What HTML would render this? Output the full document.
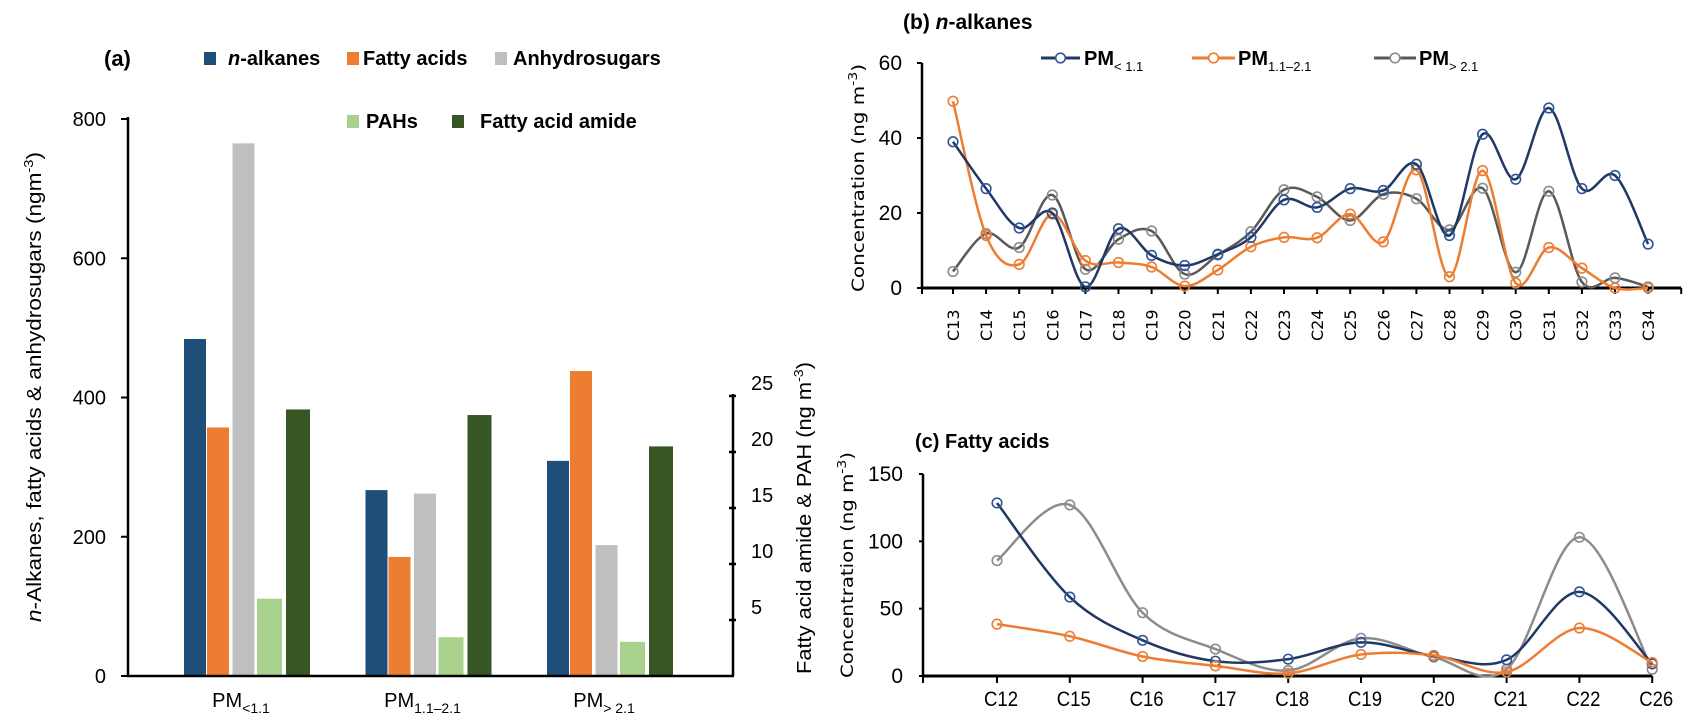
<!DOCTYPE html>
<html><head><meta charset="utf-8"><style>
html,body{margin:0;padding:0;background:#fff;}
svg{display:block;font-family:"Liberation Sans",sans-serif;}
</style></head><body>
<svg id="fig" width="1697" height="725" viewBox="0 0 1697 725" xmlns="http://www.w3.org/2000/svg">
<g id="pa"></g>
<g id="pb"></g>
<g id="pc"></g>
</svg>
<script>
// ---------- Panel (a) data ----------
const groupsA = ["<1.1", "1.1\u20132.1", "> 2.1"];
const alkanesA = [484, 267, 309];
const fattyA = [357, 171, 438];
const anhydroA = [765, 262, 188];
const pahA = [6.9, 3.46, 3.05];
const amideA = [23.8, 23.3, 20.5];
const leftTicksA = [0, 200, 400, 600, 800];
const rightTicksA = [5, 10, 15, 20, 25];

// ---------- Panel (b) data ----------
const catsB = ["C13","C14","C15","C16","C17","C18","C19","C20","C21","C22","C23","C24","C25","C26","C27","C28","C29","C30","C31","C32","C33","C34"];
const b_lt11 = [39, 26.5, 16, 20, 0.3, 15.8, 8.7, 6, 9, 13.5, 23.5, 21.5, 26.5, 26, 33, 14, 41, 29, 48, 26.5, 30, 11.7];
const b_11_21 = [49.8, 14, 6.3, 19.7, 7.3, 6.8, 5.6, 0.5, 4.8, 11, 13.5, 13.4, 19.7, 12.3, 31.5, 3, 31.3, 1.3, 10.8, 5.3, 0, 0];
const b_gt21 = [4.4, 14.5, 10.8, 24.8, 5, 13, 15.2, 3.7, 8.8, 15, 26.2, 24.3, 18, 25, 23.8, 15.5, 26.6, 4.2, 25.8, 1.6, 2.7, 0.3];
const ticksB = [0, 20, 40, 60];

// ---------- Panel (c) data ----------
const catsC = ["C12","C15","C16","C17","C18","C19","C20","C21","C22","C26"];
const c_lt11 = [128.5, 58.6, 26.5, 11, 12.5, 25, 15, 12, 62.5, 9];
const c_11_21 = [38.5, 29.5, 14.5, 7.5, 2, 16, 15.3, 3, 35.6, 10];
const c_gt21 = [85.7, 127, 47, 20, 4, 28, 14, 5, 103, 5];
const ticksC = [0, 50, 100, 150];

const NS = "http://www.w3.org/2000/svg";
function mk(parent, tag, attrs, text) {
  const e = document.createElementNS(NS, tag);
  for (const k in attrs) e.setAttribute(k, attrs[k]);
  if (text !== undefined) e.textContent = text;
  parent.appendChild(e);
  return e;
}
function smoothPath(pts) {
  let d = "M" + pts[0][0] + "," + pts[0][1];
  for (let i = 0; i < pts.length - 1; i++) {
    const p0 = pts[i - 1] || pts[i], p1 = pts[i], p2 = pts[i + 1], p3 = pts[i + 2] || p2;
    const c1x = p1[0] + (p2[0] - p0[0]) / 6, c1y = p1[1] + (p2[1] - p0[1]) / 6;
    const c2x = p2[0] - (p3[0] - p1[0]) / 6, c2y = p2[1] - (p3[1] - p1[1]) / 6;
    d += " C" + c1x + "," + c1y + " " + c2x + "," + c2y + " " + p2[0] + "," + p2[1];
  }
  return d;
}

// ===== Panel A =====
const pa = document.getElementById("pa");
const aX0 = 128, aXR = 733, aY0 = 676, aYTop = 119;
function yA(v) { return aY0 - v * (aY0 - aYTop) / 800; }
function yAR(v) { return aY0 - v * (aY0 - 396) / 25; }
function gA(i) { return 184 + i * 181.5; }
const seriesA = [
  {vals: alkanesA, off: 0, w: 22, col: "#1f4e79", ax: yA, name: "n-alkanes"},
  {vals: fattyA, off: 23, w: 22, col: "#ed7d31", ax: yA, name: "fatty-acids"},
  {vals: anhydroA, off: 48.5, w: 22, col: "#bfbfbf", ax: yA, name: "anhydrosugars"},
  {vals: pahA, off: 73, w: 25, col: "#a9d18e", ax: yAR, name: "pahs"},
  {vals: amideA, off: 102, w: 24, col: "#375623", ax: yAR, name: "fatty-acid-amide"}
];
seriesA.forEach(s => {
  s.vals.forEach((v, i) => {
    const y = s.ax(v);
    const r = mk(pa, "rect", {x: gA(i) + s.off, y: y, width: s.w, height: aY0 - y, fill: s.col});
    
    
  });
});
mk(pa, "line", {x1: aX0, y1: aYTop - 2, x2: aX0, y2: aY0, stroke: "#000", "stroke-width": 2.5,  });
mk(pa, "line", {x1: aX0 - 1, y1: aY0, x2: aXR + 1, y2: aY0, stroke: "#000", "stroke-width": 2.5,  });
mk(pa, "line", {x1: aXR, y1: 394, x2: aXR, y2: aY0, stroke: "#000", "stroke-width": 2.5,  });
leftTicksA.forEach(v => {
  const y = yA(v);
  mk(pa, "line", {x1: aX0 - 7, y1: y, x2: aX0, y2: y, stroke: "#000", "stroke-width": 2});
  const t = mk(pa, "text", {x: aX0 - 22, y: y + 7, "text-anchor": "end", "font-size": 20, fill: "#000"}, String(v));
  
  
});
rightTicksA.forEach(v => {
  const y = yAR(v);
  mk(pa, "line", {x1: aXR - 4, y1: y, x2: aXR + 3, y2: y, stroke: "#000", "stroke-width": 2.5});
  const t = mk(pa, "text", {x: aXR + 18, y: y - 6, "font-size": 20, fill: "#000"}, String(v));
  
  
});
groupsA.forEach((g, i) => {
  const cx = gA(i) + 57;
  const t = mk(pa, "text", {x: cx, y: 707, "text-anchor": "middle", "font-size": 20, fill: "#000"});
  
  
  mk(t, "tspan", {}, "PM");
  mk(t, "tspan", {dy: 6, "font-size": 14}, g);
});
mk(pa, "text", {transform: "translate(41,387) rotate(-90)", "text-anchor": "middle", "font-size": 20, textLength: 470, "lengthAdjust": "spacingAndGlyphs",  },
  "").innerHTML = '<tspan font-style="italic">n</tspan>-Alkanes, fatty acids &amp; anhydrosugars (ngm<tspan dy="-8" font-size="13">-3</tspan><tspan dy="8">)</tspan>';
mk(pa, "text", {transform: "translate(811,518) rotate(-90)", "text-anchor": "middle", "font-size": 20, textLength: 312, "lengthAdjust": "spacingAndGlyphs",  },
  "").innerHTML = 'Fatty acid amide &amp; PAH (ng m<tspan dy="-8" font-size="13">-3</tspan><tspan dy="8">)</tspan>';
mk(pa, "text", {x: 104, y: 66, "font-size": 22, "font-weight": "bold",  }, "(a)");
const legA = [
  {x: 204, y: 58, col: "#1f4e79", tx: 228, html: '<tspan font-style="italic">n</tspan>-alkanes', name: "legend-n-alkanes"},
  {x: 347, y: 58, col: "#ed7d31", tx: 363, html: 'Fatty acids', name: "legend-fatty-acids"},
  {x: 495, y: 58, col: "#bfbfbf", tx: 513, html: 'Anhydrosugars', name: "legend-anhydrosugars"},
  {x: 347, y: 121, col: "#a9d18e", tx: 366, html: 'PAHs', name: "legend-pahs"},
  {x: 452, y: 121, col: "#375623", tx: 480, html: 'Fatty acid amide', name: "legend-fatty-acid-amide"}
];
legA.forEach(l => {
  const g = mk(pa, "g", {});
  
  
  mk(g, "rect", {x: l.x, y: l.y - 6, width: 12, height: 13, fill: l.col});
  mk(g, "text", {x: l.tx, y: l.y + 7, "font-size": 20, "font-weight": "bold"}, "").innerHTML = l.html;
});

// ===== Panel B =====
const pb = document.getElementById("pb");
const bX0 = 922, bY0 = 288, bYTop = 63;
const bStep = 33.1;
function xB(i) { return 953 + i * bStep; }
const bXEnd = xB(catsB.length);
function yB(v) { return bY0 - v * (bY0 - bYTop) / 60; }
mk(pb, "line", {x1: bX0, y1: bYTop, x2: bX0, y2: bY0, stroke: "#000", "stroke-width": 2.5,  });
mk(pb, "line", {x1: bX0, y1: bY0, x2: bXEnd, y2: bY0, stroke: "#000", "stroke-width": 3,  });
ticksB.forEach(v => {
  const y = yB(v);
  mk(pb, "line", {x1: bX0 - 5, y1: y, x2: bX0, y2: y, stroke: "#000", "stroke-width": 2});
  const t = mk(pb, "text", {x: bX0 - 20, y: y + 7, "text-anchor": "end", "font-size": 21, fill: "#000"}, String(v));
  
  
});
mk(pb, "line", {x1: bX0, y1: bY0, x2: bX0, y2: bY0 + 6, stroke: "#000", "stroke-width": 2});
catsB.forEach((c, i) => {
  const x = xB(i);
  mk(pb, "line", {x1: x, y1: bY0, x2: x, y2: bY0 + 6, stroke: "#000", "stroke-width": 2});
  const t = mk(pb, "text", {transform: "translate(" + (x + 6) + ",341) rotate(-90)", "font-size": 16, "font-family": "DejaVu Sans, sans-serif", fill: "#000"}, c);
  
  
});
mk(pb, "line", {x1: bXEnd, y1: bY0, x2: bXEnd, y2: bY0 + 6, stroke: "#000", "stroke-width": 2});
const seriesB = [
  {vals: b_gt21, col: "#595959", mk: "#8c8c8c", name: "pm-gt-2-1"},
  {vals: b_11_21, col: "#ed7d31", mk: "#ed7d31", name: "pm-1-1-2-1"},
  {vals: b_lt11, col: "#203864", mk: "#2f5597", name: "pm-lt-1-1"}
];
seriesB.forEach(s => {
  const pts = s.vals.map((v, i) => [xB(i), yB(v)]);
  const p = mk(pb, "path", {d: smoothPath(pts), fill: "none", stroke: s.col, "stroke-width": 2.5});
  
  
  pts.forEach(pt => {
    const c = mk(pb, "circle", {cx: pt[0], cy: pt[1], r: 4.8, fill: "none", stroke: s.mk, "stroke-width": 1.6});
    
    
  });
});
mk(pb, "text", {transform: "translate(864,178) rotate(-90)", "text-anchor": "middle", "font-size": 17, "font-family": "DejaVu Sans, sans-serif", textLength: 228, "lengthAdjust": "spacingAndGlyphs",  },
  "").innerHTML = 'Concentration (ng m<tspan dy="-7" font-size="12">-3</tspan><tspan dy="7">)</tspan>';
mk(pb, "text", {x: 903, y: 29, "font-size": 21, "font-weight": "bold",  }, "").innerHTML = '(b) <tspan font-style="italic">n</tspan>-alkanes';
const legB = [
  {x1: 1041, x2: 1080, tx: 1084, col: "#203864", mk: "#2f5597", sub: "< 1.1", name: "legend-b-pm-lt-1-1"},
  {x1: 1192, x2: 1235, tx: 1238, col: "#ed7d31", mk: "#ed7d31", sub: "1.1\u20132.1", name: "legend-b-pm-1-1-2-1"},
  {x1: 1374, x2: 1416, tx: 1419, col: "#595959", mk: "#8c8c8c", sub: "> 2.1", name: "legend-b-pm-gt-2-1"}
];
legB.forEach(l => {
  const g = mk(pb, "g", {});
  
  
  mk(g, "line", {x1: l.x1, y1: 58, x2: l.x2, y2: 58, stroke: l.col, "stroke-width": 3});
  mk(g, "circle", {cx: (l.x1 + l.x2) / 2, cy: 58, r: 4.8, fill: "#fff", stroke: l.mk, "stroke-width": 1.6});
  const t = mk(g, "text", {x: l.tx, y: 65, "font-size": 20, "font-weight": "bold"});
  mk(t, "tspan", {}, "PM");
  mk(t, "tspan", {dy: 6, "font-size": 13, "font-weight": "normal"}, l.sub);
});

// ===== Panel C =====
const pc = document.getElementById("pc");
const cX0 = 923, cY0 = 676, cYTop = 474;
function xC(i) { return 997 + i * 72.8; }
function yC(v) { return cY0 - v * (cY0 - cYTop) / 150; }
mk(pc, "line", {x1: cX0, y1: cYTop, x2: cX0, y2: cY0, stroke: "#000", "stroke-width": 2.5,  });
mk(pc, "line", {x1: cX0, y1: cY0, x2: xC(catsC.length - 1), y2: cY0, stroke: "#000", "stroke-width": 3,  });
ticksC.forEach(v => {
  const y = yC(v);
  mk(pc, "line", {x1: cX0 - 4, y1: y, x2: cX0, y2: y, stroke: "#000", "stroke-width": 2});
  const t = mk(pc, "text", {x: cX0 - 20, y: y + 7, "text-anchor": "end", "font-size": 21, fill: "#000"}, String(v));
  
  
});
mk(pc, "line", {x1: cX0, y1: cY0, x2: cX0, y2: cY0 + 7, stroke: "#000", "stroke-width": 2});
catsC.forEach((c, i) => {
  const x = xC(i);
  mk(pc, "line", {x1: x, y1: cY0, x2: x, y2: cY0 + 7, stroke: "#000", "stroke-width": 2});
  const t = mk(pc, "text", {x: x + 4, y: 706, "text-anchor": "middle", "font-size": 21, fill: "#000", textLength: 34, "lengthAdjust": "spacingAndGlyphs"}, c);
  
  
});
const seriesC = [
  {vals: c_gt21, col: "#8c8c8c", mk: "#8c8c8c", name: "pm-gt-2-1"},
  {vals: c_lt11, col: "#203864", mk: "#2f5597", name: "pm-lt-1-1"},
  {vals: c_11_21, col: "#ed7d31", mk: "#ed7d31", name: "pm-1-1-2-1"}
];
seriesC.forEach(s => {
  const pts = s.vals.map((v, i) => [xC(i), yC(v)]);
  const p = mk(pc, "path", {d: smoothPath(pts), fill: "none", stroke: s.col, "stroke-width": 2.5});
  
  
  pts.forEach(pt => {
    const c = mk(pc, "circle", {cx: pt[0], cy: pt[1], r: 4.8, fill: "none", stroke: s.mk, "stroke-width": 1.6});
    
    
  });
});
mk(pc, "text", {transform: "translate(853,565) rotate(-90)", "text-anchor": "middle", "font-size": 17, "font-family": "DejaVu Sans, sans-serif", textLength: 226, "lengthAdjust": "spacingAndGlyphs",  },
  "").innerHTML = 'Concentration (ng m<tspan dy="-7" font-size="12">-3</tspan><tspan dy="7">)</tspan>';
mk(pc, "text", {x: 915, y: 448, "font-size": 20, "font-weight": "bold",  }, "(c)  Fatty acids");
</script>
</body></html>
